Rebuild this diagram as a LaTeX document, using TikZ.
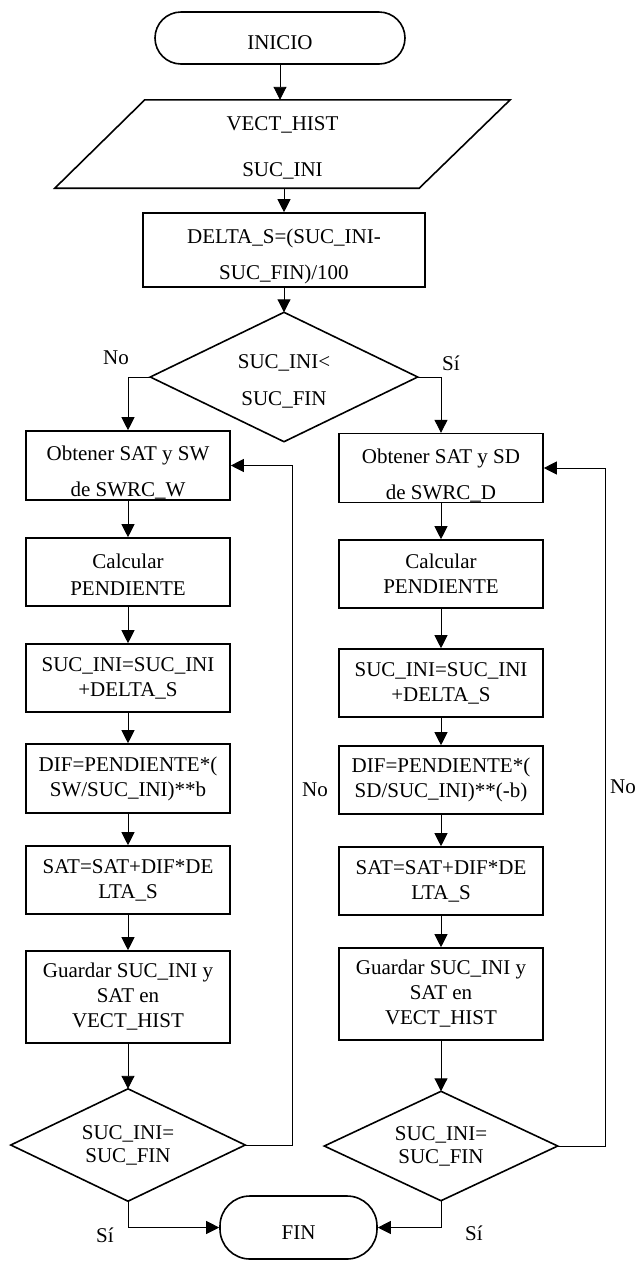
\documentclass[tikz,border=0pt]{standalone}
\usepackage{fontspec}
\setmainfont{Liberation Serif}
\usetikzlibrary{arrows.meta}
\newcommand\lowstrut[1]{\rule{0pt}{#1}}
\begin{document}
\begin{tikzpicture}[x=1pt,y=-1pt,
  every node/.style={font=\fontsize{21}{25}\selectfont, inner sep=0pt},
  proc/.style={draw, line width=1.6pt, minimum width=204pt, align=center},
  term/.style={draw, line width=1.6pt, align=center},
  shp/.style={line width=1.6pt, line join=miter},
  hold/.style={align=center},
  arr/.style={line width=0.9pt, -{Triangle[length=13pt,width=13pt]}},
  lin/.style={line width=0.9pt}
]
\useasboundingbox (0,0) rectangle (636,1262);

% top part
\node[term, minimum width=250pt, minimum height=52pt, rounded corners=26pt] (ini) at (280,38) {\lowstrut{24pt}INICIO};
\node[hold, minimum width=455pt, minimum height=88pt, font=\fontsize{21}{46}\selectfont] (inp) at (282.5,144) {\lowstrut{21pt}VECT\_HIST\\SUC\_INI};
\draw[shp] ([xshift=90pt]inp.north west) -- (inp.north east) -- ([xshift=-91pt]inp.south east) -- (inp.south west) -- cycle;
\node[proc, minimum width=282pt, minimum height=74pt, font=\fontsize{21}{36}\selectfont] (delta) at (284,250) {\lowstrut{28pt}DELTA\_S=(SUC\_INI-\\SUC\_FIN)/100};
\node[hold, minimum width=267pt, minimum height=129pt, font=\fontsize{21}{37}\selectfont] (d1) at (284,377) {\lowstrut{22pt}SUC\_INI<\\SUC\_FIN};
\draw[shp] (d1.north) -- (d1.east) -- (d1.south) -- (d1.west) -- cycle;

% left column
\node[proc, minimum height=69pt, font=\fontsize{21}{36}\selectfont] (L1) at (128,465.5) {\lowstrut{28pt}Obtener SAT y SW\\de SWRC\_W};
\node[proc, minimum height=68pt, font=\fontsize{21}{27}\selectfont] (L2) at (128,572) {\lowstrut{20pt}Calcular\\PENDIENTE};
\node[proc, minimum height=68pt] (L3) at (128,678) {SUC\_INI=SUC\_INI\\+DELTA\_S};
\node[proc, minimum height=69pt] (L4) at (128,778.5) {DIF=PENDIENTE*(\\SW/SUC\_INI)**b};
\node[proc, minimum height=68pt] (L5) at (128,880) {SAT=SAT+DIF*DE\\LTA\_S};
\node[proc, minimum height=92pt] (L6) at (128,997) {Guardar SUC\_INI y\\SAT en\\VECT\_HIST};
\node[hold, minimum width=234pt, minimum height=112pt, font=\fontsize{21}{23}\selectfont] (LD) at (128,1145) {SUC\_INI=\\SUC\_FIN};
\draw[shp] (LD.north) -- (LD.east) -- (LD.south) -- (LD.west) -- cycle;

% right column
\node[proc, minimum height=68pt, font=\fontsize{21}{36}\selectfont] (R1) at (441,468) {\lowstrut{30pt}Obtener SAT y SD\\de SWRC\_D};
\node[proc, minimum height=68pt] (R2) at (441,574) {Calcular\\PENDIENTE};
\node[proc, minimum height=68pt] (R3) at (441,683) {SUC\_INI=SUC\_INI\\+DELTA\_S};
\node[proc, minimum height=68pt] (R4) at (441,780) {DIF=PENDIENTE*(\\SD/SUC\_INI)**(-b)};
\node[proc, minimum height=68pt] (R5) at (441,881) {SAT=SAT+DIF*DE\\LTA\_S};
\node[proc, minimum height=92pt] (R6) at (441,994) {Guardar SUC\_INI y\\SAT en\\VECT\_HIST};
\node[hold, minimum width=233pt, minimum height=109pt, font=\fontsize{21}{23}\selectfont] (RD) at (441,1146) {SUC\_INI=\\SUC\_FIN};
\draw[shp] (RD.north) -- (RD.east) -- (RD.south) -- (RD.west) -- cycle;

% end
\node[term, minimum width=157pt, minimum height=63pt, rounded corners=30pt] (fin) at (298.5,1227.5) {\lowstrut{23pt}FIN};

% connectors
\draw[arr] (ini.south) -- (ini.south |- inp.north);
\draw[arr] (delta.north |- inp.south) -- (delta.north);
\draw[arr] (delta.south) -- (d1.north);
\draw[arr] (d1.west) -| (L1.north);
\draw[arr] (d1.east) -| (R1.north);
\draw[arr] (L1.south) -- (L2.north);
\draw[arr] (L2.south) -- (L3.north);
\draw[arr] (L3.south) -- (L4.north);
\draw[arr] (L4.south) -- (L5.north);
\draw[arr] (L5.south) -- (L6.north);
\draw[arr] (L6.south) -- (LD.north);
\draw[arr] (R1.south) -- (R2.north);
\draw[arr] (R2.south) -- (R3.north);
\draw[arr] (R3.south) -- (R4.north);
\draw[arr] (R4.south) -- (R5.north);
\draw[arr] (R5.south) -- (R6.north);
\draw[arr] (R6.south) -- (RD.north);
\draw[arr] (LD.east) -- ++(47,0) |- (L1.east);
\draw[arr] (RD.east) -- ++(48,0) |- (R1.east);
\draw[arr] (LD.south) |- (fin.west);
\draw[arr] (RD.south) |- (fin.east);

% labels
\node (no1) at (116,358) {No};
\node (si1) at (451,363) {Sí};
\node (no2) at (315,790) {No};
\node (no3) at (623,787) {No};
\node (si2) at (105,1235) {Sí};
\node (si3) at (474,1233) {Sí};
\end{tikzpicture}
\end{document}
